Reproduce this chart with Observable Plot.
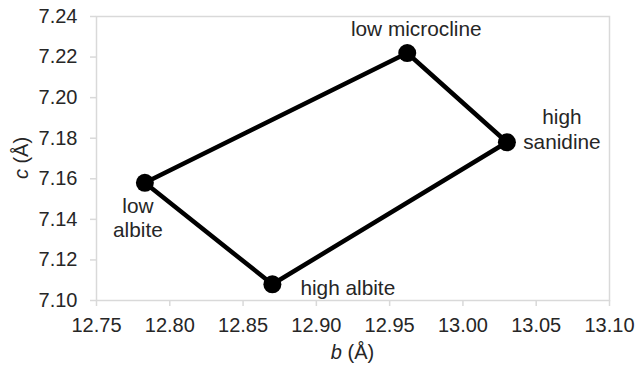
<!DOCTYPE html>
<html>
<head>
<meta charset="utf-8">
<script src="https://cdn.jsdelivr.net/npm/d3@7"></script>
<script src="https://cdn.jsdelivr.net/npm/@observablehq/plot@0.6"></script>
<style>
  html, body { margin: 0; padding: 0; background: #fff; }
  #chart { width: 637px; height: 366px; }
  svg { font-family: "Liberation Sans", Arial, sans-serif; }
</style>
</head>
<body>
<div id="chart"></div>
<script>
// Data
const names = ["low albite", "low microcline", "high sanidine", "high albite"];
const bValues = [12.783, 12.962, 13.030, 12.870];
const cValues = [7.158, 7.222, 7.178, 7.108];
const xTicks = [12.75, 12.80, 12.85, 12.90, 12.95, 13.00, 13.05, 13.10];
const yTicks = [7.10, 7.12, 7.14, 7.16, 7.18, 7.20, 7.22, 7.24];

const pts = names.map((n, i) => ({name: n, b: bValues[i], c: cValues[i]}));
const loop = [...pts, pts[0]];
const byName = n => pts.filter(d => d.name === n);

const fmt = d3.format(".2f");
const textColor = "#262626";
const axisColor = "#d9d9d9";
const fsTick = 20;
const fsLab = 20.8;

const plot = Plot.plot({
  width: 637,
  height: 366,
  marginLeft: 96,
  marginRight: 28,
  marginTop: 16,
  marginBottom: 66,
  style: {fontFamily: "'Liberation Sans', Arial, sans-serif", fontSize: fsTick + "px", color: textColor, background: "#fff"},
  x: {domain: [12.75, 13.10]},
  y: {domain: [7.10, 7.24]},
  marks: [
    Plot.frame({stroke: axisColor, strokeWidth: 1.5}),
    Plot.axisX({ticks: xTicks, tickFormat: fmt, tickSize: 6, tickPadding: 11, stroke: axisColor, strokeWidth: 1.5, fill: textColor, fontSize: fsTick, label: null}),
    Plot.axisY({ticks: yTicks, tickFormat: fmt, tickSize: 6, tickPadding: 13, stroke: axisColor, strokeWidth: 1.5, fill: textColor, fontSize: fsTick, label: null}),
    Plot.line(loop, {x: "b", y: "c", stroke: "#000", strokeWidth: 4.5, strokeLinejoin: "round"}),
    Plot.dot(pts, {x: "b", y: "c", r: 9, fill: "#000"}),
    Plot.text(byName("low microcline"), {x: "b", y: "c", text: d => d.name, dx: 9, dy: -24, fill: textColor, fontSize: fsLab}),
    Plot.text(byName("high sanidine"), {x: "b", y: "c", text: d => "high\nsanidine", dx: 55, dy: -14, lineHeight: 1.2, fill: textColor, fontSize: fsLab}),
    Plot.text(byName("low albite"), {x: "b", y: "c", text: d => "low\nalbite", dx: -7, dy: 34, lineHeight: 1.16, fill: textColor, fontSize: fsLab}),
    Plot.text(byName("high albite"), {x: "b", y: "c", text: d => d.name, dx: 28, dy: 4, textAnchor: "start", fill: textColor, fontSize: fsLab})
  ]
});

// Axis titles with italic variable names
const svg = d3.select(plot);
const xr = plot.scale("x").range;
const yr = plot.scale("y").range;
const xt = svg.append("text")
  .attr("x", (xr[0] + xr[1]) / 2)
  .attr("y", 359)
  .attr("text-anchor", "middle")
  .attr("fill", textColor)
  .attr("font-size", fsTick);
xt.append("tspan").attr("font-style", "italic").text("b");
xt.append("tspan").text(" (Å)");

const yt = svg.append("text")
  .attr("transform", `translate(28,${(yr[0] + yr[1]) / 2}) rotate(-90)`)
  .attr("text-anchor", "middle")
  .attr("fill", textColor)
  .attr("font-size", fsTick);
yt.append("tspan").attr("font-style", "italic").text("c");
yt.append("tspan").text(" (Å)");

document.getElementById("chart").appendChild(plot);
</script>
</body>
</html>
